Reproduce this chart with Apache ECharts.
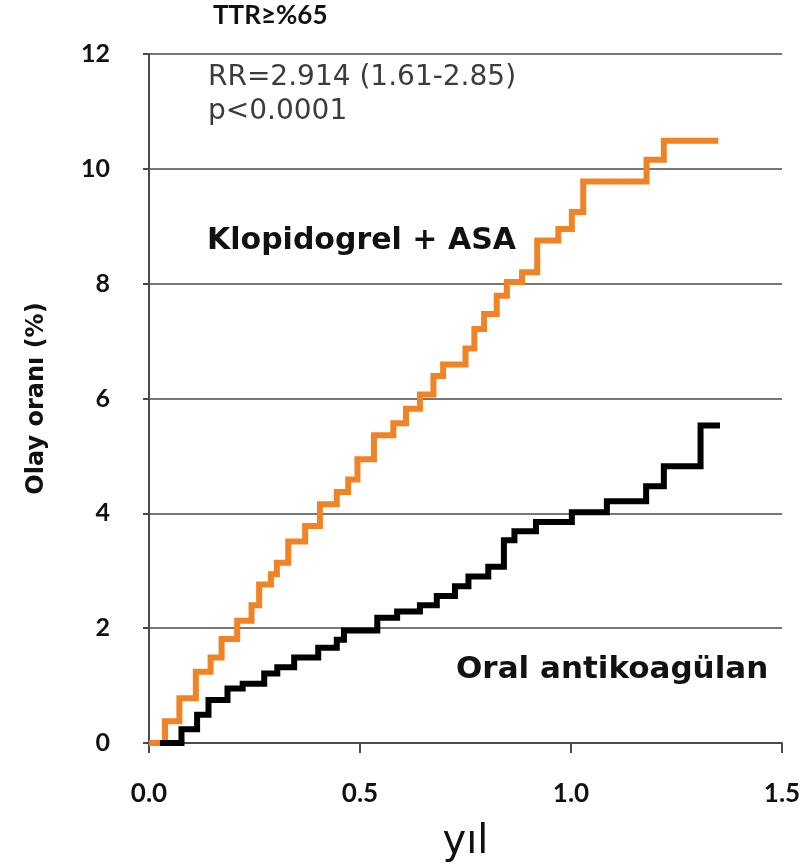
<!DOCTYPE html>
<html>
<head>
<meta charset="utf-8">
<script src="https://cdn.jsdelivr.net/npm/echarts@6/dist/echarts.min.js"></script>
<style>
  html, body { margin: 0; padding: 0; background: #fff; }
  #chart { width: 811px; height: 868px; }
</style>
</head>
<body>
<div id="chart"></div>
<script>
// Cumulative event rate (%) by year, step-wise: each time marks a jump to the new rate
const clopidogrelTimes = [0, 0.038, 0.072, 0.111, 0.146, 0.172, 0.209, 0.243, 0.261, 0.289, 0.303,
  0.330, 0.370, 0.405, 0.445, 0.472, 0.494, 0.533, 0.579, 0.609, 0.642, 0.674, 0.697, 0.750,
  0.771, 0.794, 0.824, 0.848, 0.884, 0.920, 0.970, 1.002, 1.029, 1.179, 1.220, 1.349];
const clopidogrelRates = [0, 0.38, 0.78, 1.24, 1.49, 1.81, 2.13, 2.40, 2.76, 2.94, 3.14,
  3.51, 3.78, 4.16, 4.37, 4.59, 4.94, 5.36, 5.57, 5.82, 6.07, 6.39, 6.59, 6.87,
  7.21, 7.47, 7.79, 8.03, 8.20, 8.75, 8.95, 9.25, 9.78, 10.16, 10.49, 10.49];

const oacTimes = [0.026, 0.077, 0.114, 0.141, 0.186, 0.222, 0.273, 0.304, 0.344, 0.401, 0.445,
  0.462, 0.541, 0.588, 0.642, 0.682, 0.725, 0.757, 0.804, 0.841, 0.866, 0.917, 1.002, 1.085,
  1.178, 1.220, 1.307, 1.353];
const oacRates = [0, 0.24, 0.49, 0.75, 0.95, 1.03, 1.21, 1.32, 1.49, 1.66, 1.80,
  1.96, 2.18, 2.29, 2.40, 2.56, 2.73, 2.90, 3.07, 3.53, 3.69, 3.85, 4.02, 4.21,
  4.47, 4.82, 5.53, 5.53];

const xTicks = [0, 0.5, 1.0, 1.5];
const yTicks = [0, 2, 4, 6, 8, 10, 12];

const titleText = 'TTR≥%65';
const statLines = ['RR=2.914 (1.61-2.85)', 'p<0.0001'];
const clopidogrelLabel = 'Klopidogrel + ASA';
const oacLabel = 'Oral antikoagülan';
const xName = 'yıl';
const yName = 'Olay oranı (%)';

const NUM_FONT = 'Lato, "DejaVu Sans", sans-serif';
const TEXT_FONT = '"DejaVu Sans", sans-serif';
const ORANGE = '#F08326';
const AXIS = '#4a4a4a';

const pairs = (xs, ys) => xs.map((x, i) => [x, ys[i]]);

const chart = echarts.init(document.getElementById('chart'), null, { renderer: 'canvas' });

chart.setOption({
  animation: false,
  backgroundColor: '#fff',
  grid: { left: 149, right: 29, top: 54, bottom: 118, containLabel: false },
  xAxis: {
    type: 'value',
    min: xTicks[0],
    max: xTicks[xTicks.length - 1],
    interval: 0.5,
    name: xName,
    nameLocation: 'middle',
    nameGap: 80,
    nameTextStyle: { fontFamily: TEXT_FONT, fontSize: 40, fontWeight: 'normal', color: '#111' },
    axisLine: { show: true, lineStyle: { color: AXIS, width: 2 } },
    axisTick: { show: true, inside: false, length: 10, lineStyle: { color: AXIS, width: 2 } },
    axisLabel: {
      margin: 38,
      fontFamily: NUM_FONT, fontSize: 26, fontWeight: 'bold', color: '#111',
      formatter: v => v.toFixed(1)
    },
    splitLine: { show: false }
  },
  yAxis: {
    type: 'value',
    min: yTicks[0],
    max: yTicks[yTicks.length - 1],
    interval: 2,
    name: yName,
    nameLocation: 'middle',
    nameGap: 100,
    nameRotate: 90,
    nameTextStyle: { fontFamily: TEXT_FONT, fontSize: 24, fontWeight: 'bold', color: '#111' },
    axisLine: { show: true, lineStyle: { color: AXIS, width: 2 } },
    axisTick: { show: true, inside: false, length: 6, lineStyle: { color: AXIS, width: 2 } },
    axisLabel: {
      margin: 39,
      fontFamily: NUM_FONT, fontSize: 25, fontWeight: 'bold', color: '#111'
    },
    splitLine: { show: true, lineStyle: { color: AXIS, width: 1.6 } }
  },
  series: [
    {
      name: clopidogrelLabel,
      type: 'line',
      step: 'end',
      data: pairs(clopidogrelTimes, clopidogrelRates),
      showSymbol: false,
      symbol: 'none',
      lineStyle: { color: ORANGE, width: 6, join: 'miter', cap: 'butt' },
      z: 3
    },
    {
      name: oacLabel,
      type: 'line',
      step: 'end',
      data: pairs(oacTimes, oacRates),
      showSymbol: false,
      symbol: 'none',
      lineStyle: { color: '#000', width: 6, join: 'miter', cap: 'butt' },
      z: 4
    }
  ],
  graphic: [
    {
      type: 'text', left: 213, top: 3,
      style: { text: titleText, fontFamily: NUM_FONT, fontSize: 26, fontWeight: 'bold', fill: '#111' }
    },
    {
      type: 'text', left: 208, top: 61,
      style: { text: statLines.join('\n'), fontFamily: TEXT_FONT, fontSize: 28, lineHeight: 34, fill: '#3c3c3c' }
    },
    {
      type: 'text', left: 207, top: 226,
      style: { text: clopidogrelLabel, fontFamily: TEXT_FONT, fontSize: 30, fontWeight: 'bold', fill: '#111' }
    },
    {
      type: 'text', left: 456, top: 654,
      style: { text: oacLabel, fontFamily: TEXT_FONT, fontSize: 31, fontWeight: 'bold', fill: '#111' }
    }
  ]
});
</script>
</body>
</html>
